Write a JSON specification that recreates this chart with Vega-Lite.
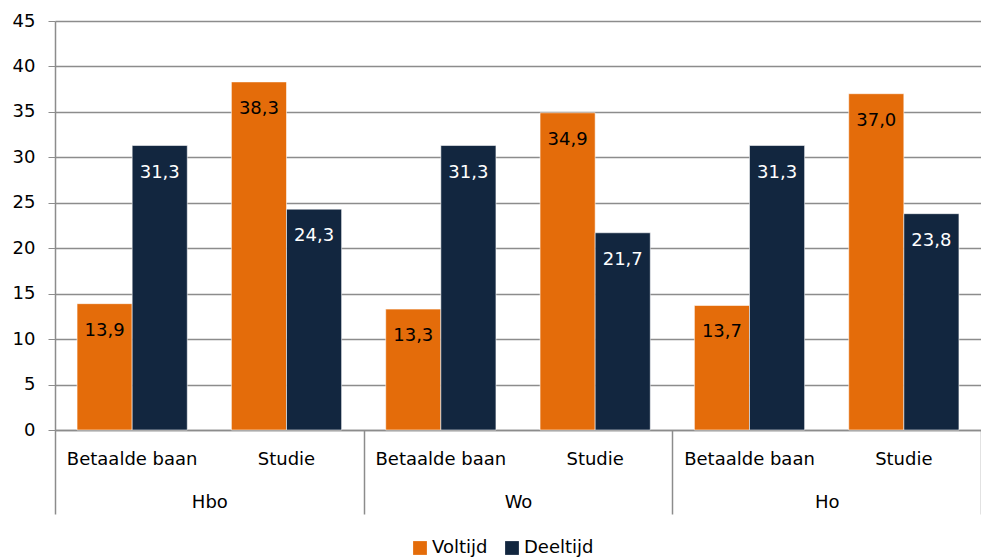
{
  "$schema": "https://vega.github.io/schema/vega-lite/v6.json",
  "width": 926, "height": 409,
  "autosize": {"type": "none"},
  "padding": {"left": 55, "top": 21, "right": 0, "bottom": 127},
  "background": "white",
  "config": {
    "font": "DejaVu Sans",
    "view": {"stroke": null},
    "locale": {"number": {"decimal": ",", "thousands": ".", "grouping": [3], "currency": ["€", ""]}},
    "axis": {"labelColor": "black", "labelFontSize": 18, "title": null, "domainColor": "#8c8c8c", "tickColor": "#8c8c8c"}
  },
  "data": {"values": [
    {"group": "Hbo", "key": "Hbo|Betaalde baan", "serie": "Voltijd", "value": 13.9},
    {"group": "Hbo", "key": "Hbo|Betaalde baan", "serie": "Deeltijd", "value": 31.3},
    {"group": "Hbo", "key": "Hbo|Studie", "serie": "Voltijd", "value": 38.3},
    {"group": "Hbo", "key": "Hbo|Studie", "serie": "Deeltijd", "value": 24.3},
    {"group": "Wo", "key": "Wo|Betaalde baan", "serie": "Voltijd", "value": 13.3},
    {"group": "Wo", "key": "Wo|Betaalde baan", "serie": "Deeltijd", "value": 31.3},
    {"group": "Wo", "key": "Wo|Studie", "serie": "Voltijd", "value": 34.9},
    {"group": "Wo", "key": "Wo|Studie", "serie": "Deeltijd", "value": 21.7},
    {"group": "Ho", "key": "Ho|Betaalde baan", "serie": "Voltijd", "value": 13.7},
    {"group": "Ho", "key": "Ho|Betaalde baan", "serie": "Deeltijd", "value": 31.3},
    {"group": "Ho", "key": "Ho|Studie", "serie": "Voltijd", "value": 37.0},
    {"group": "Ho", "key": "Ho|Studie", "serie": "Deeltijd", "value": 23.8}
  ]},
  "layer": [
    {
      "encoding": {
        "x": {"field": "key", "type": "nominal", "sort": null,
          "scale": {"paddingInner": 0, "paddingOuter": 0},
          "axis": {"orient": "bottom", "labelExpr": "split(datum.label, '|')[1]", "labelAngle": 0, "ticks": false, "labelPadding": 20, "domainWidth": 1.5}},
        "xOffset": {"field": "serie", "type": "nominal", "sort": ["Voltijd", "Deeltijd"],
          "scale": {"paddingInner": 0, "paddingOuter": 0.4}},
        "y": {"field": "value", "type": "quantitative",
          "scale": {"domain": [0, 45], "nice": false},
          "axis": {"values": [0, 5, 10, 15, 20, 25, 30, 35, 40, 45], "grid": true, "gridColor": "#8c8c8c", "gridWidth": 1.5, "domainWidth": 1.5, "tickSize": 7, "labelPadding": 13}}
      },
      "layer": [
        {
          "mark": {"type": "bar", "stroke": "white", "strokeWidth": 0.8, "strokeOpacity": 0.7},
          "encoding": {
            "color": {"field": "serie", "type": "nominal", "sort": ["Voltijd", "Deeltijd"],
              "scale": {"domain": ["Voltijd", "Deeltijd"], "range": ["#e46c0a", "#12263f"]},
              "legend": {"title": null, "orient": "none", "direction": "horizontal", "legendX": 356, "legendY": 518,
                "symbolType": "square", "symbolSize": 190, "symbolStrokeWidth": 0, "labelFontSize": 18, "labelOffset": 3, "columnPadding": 15}}
          }
        },
        {
          "mark": {"type": "text", "dy": 27, "fontSize": 18},
          "encoding": {
            "text": {"field": "value", "type": "quantitative", "format": ".1f"},
            "color": {"condition": {"test": "datum.serie === 'Voltijd'", "value": "black"}, "value": "white"}
          }
        }
      ]
    },
    {
      "data": {"values": [{"group": "Hbo"}, {"group": "Wo"}, {"group": "Ho"}]},
      "mark": {"type": "point", "opacity": 0},
      "encoding": {
        "x": {"field": "group", "type": "nominal", "sort": null,
          "scale": {"paddingInner": 0, "paddingOuter": 0},
          "axis": {"orient": "bottom", "domain": false, "tickBand": "extent", "tickSize": 84, "tickWidth": 1.5, "labelPadding": -21, "labelAngle": 0}}
      }
    }
  ],
  "resolve": {"scale": {"x": "independent"}, "axis": {"x": "independent"}}
}
